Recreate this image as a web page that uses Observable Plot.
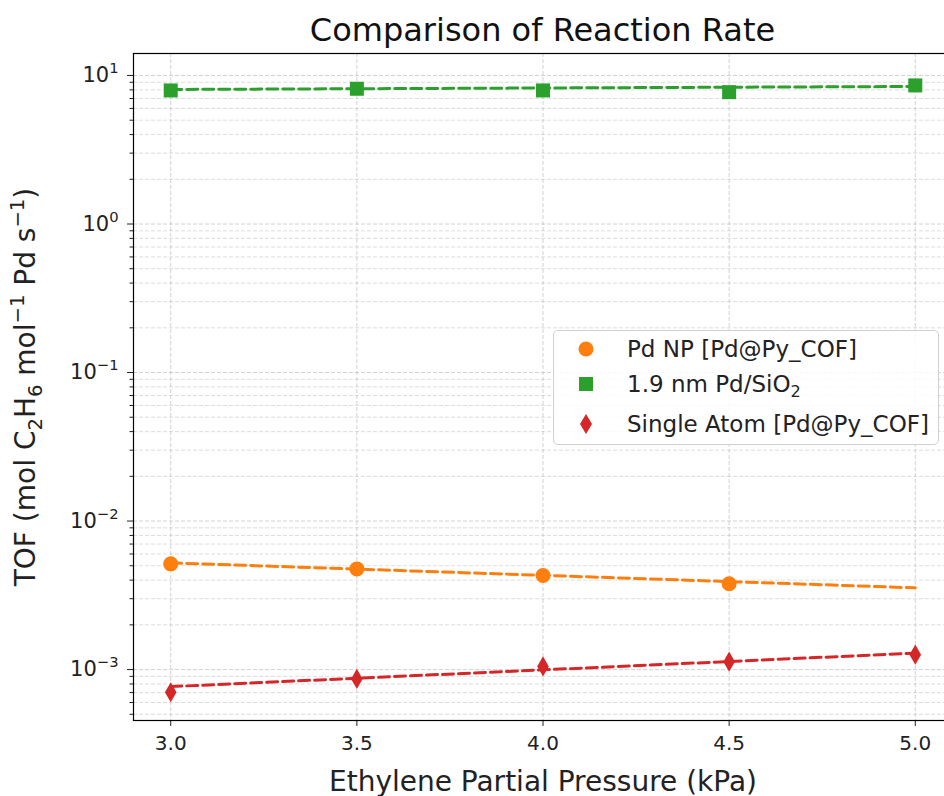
<!DOCTYPE html>
<html><head><meta charset="utf-8">
<script src="https://cdn.jsdelivr.net/npm/d3@7"></script>
<script src="https://cdn.jsdelivr.net/npm/@observablehq/plot@0.6"></script>
<style>
body{margin:0;background:#fff;font-family:"DejaVu Sans",sans-serif;}
#wrap{position:relative;width:944px;height:796px;overflow:hidden;background:#fff;}
#title{position:absolute;left:133px;width:819px;top:10px;text-align:center;font-size:32px;color:#111;line-height:40px;}
#chart{position:absolute;left:0;top:0;}
#chart svg{overflow:visible;font-family:"DejaVu Sans",sans-serif;}
#chart [aria-label="y-axis label"] text,#chart [aria-label="x-axis label"] text{font-size:28px;}
#legend{position:absolute;left:553px;top:330px;width:386px;height:115px;border:1px solid #d0d0d0;border-radius:5px;background:rgba(255,255,255,0.85);box-sizing:border-box;}
.row{position:absolute;left:0;height:30px;display:flex;align-items:center;font-size:23px;color:#222;}
.row svg{position:absolute;left:16px;}
.row span{position:absolute;left:73px;white-space:nowrap;}
.row sub{font-size:70%;vertical-align:-0.3em;line-height:0;}
</style></head>
<body>
<div id="wrap">
<div id="chart"></div>
<div id="title">Comparison of Reaction Rate</div>
<div id="legend"></div>
</div>
<script>
// Ethylene partial pressure (kPa)
const pressure = [3.0, 3.5, 4.0, 4.5, 5.0];
// TOF values (null = no marker)
const pdNP = [5.15e-3, 4.76e-3, 4.30e-3, 3.78e-3, null];
const pdSiO2 = [7.93, 8.14, 7.93, 7.72, 8.57];
const singleAtom = [7.03e-4, 8.65e-4, 1.05e-3, 1.13e-3, 1.26e-3];
// Dashed trend-line endpoints
const fitX = [3.0, 5.0];
const pdNPFit = [5.23e-3, 3.55e-3];
const pdSiO2Fit = [8.05, 8.43];
const singleAtomFit = [7.68e-4, 1.29e-3];
// Axis ticks
const xTicks = [3.0, 3.5, 4.0, 4.5, 5.0];
const yMajor = [1e-3, 1e-2, 1e-1, 1e0, 1e1];
const yExponents = ["\u22123", "\u22122", "\u22121", "0", "1"];
const seriesNames = ["Pd NP [Pd@Py_COF]", "1.9 nm Pd/SiO<sub>2</sub>", "Single Atom [Pd@Py_COF]"];
const colors = ["#ff7f0e", "#2ca02c", "#d62728"];
const yLabelParts = [["TOF (mol C"], ["2", "sub"], ["H"], ["6", "sub"], [" mol"], ["\u22121", "sup"], [" Pd s"], ["\u22121", "sup"], [")"]];

const yMinor = [];
for (let e = -4; e <= 0; e++) for (let m = 2; m <= 9; m++) {
  const v = m * Math.pow(10, e);
  if (v > 4.5e-4 && v < 14) yMinor.push(v);
}

const pts = (ys) => pressure.map((x, i) => ({x, y: ys[i]})).filter(d => d.y != null);
const fit = (ys) => fitX.map((x, i) => ({x, y: ys[i]}));
const yFmt = (d) => "10^" + (yExponents[Math.round(Math.log10(d)) + 3] ?? "");

const grid = {stroke: "#b8b8b8", strokeWidth: 0.8, strokeDasharray: "4,2", strokeOpacity: 0.8};
const dash = {strokeWidth: 3, strokeDasharray: "11,5"};

const plot = Plot.plot({
  width: 944,
  height: 796,
  marginLeft: 133,
  marginRight: -8,
  marginTop: 53,
  marginBottom: 76,
  style: {fontFamily: "DejaVu Sans, sans-serif", fontSize: "20px", color: "#222", background: "transparent"},
  x: {domain: [2.9, 5.1]},
  y: {type: "log", domain: [4.54e-4, 14.06]},
  marks: [
    Plot.ruleY(yMinor, {...grid, strokeOpacity: 0.6}),
    Plot.ruleY(yMajor, grid),
    Plot.ruleX(xTicks, grid),
    Plot.axisX({ticks: xTicks, tickFormat: d => d.toFixed(1), tickSize: 6, tickPadding: 9,
      label: "Ethylene Partial Pressure (kPa)", labelAnchor: "center", labelOffset: 70, labelArrow: "none", fontSize: 20}),
    Plot.axisY({ticks: yMinor, tickFormat: () => "", tickSize: 3.5, label: null}),
    Plot.axisY({ticks: yMajor, tickFormat: yFmt, tickSize: 6, tickPadding: 9, fontSize: 21,
      label: "TOF (mol C2H6 mol-1 Pd s-1)", labelAnchor: "center", labelOffset: 118, labelArrow: "none"}),
    Plot.dot(pts(pdNP), {x: "x", y: "y", r: 7.5, fill: colors[0], symbol: "circle"}),
    Plot.dot(pts(pdSiO2), {x: "x", y: "y", r: 7.9, fill: colors[1], symbol: "square"}),
    Plot.dot(pts(singleAtom), {x: "x", y: "y", r: 6.1, fill: colors[2], symbol: "diamond"}),
    Plot.line(fit(pdNPFit), {x: "x", y: "y", stroke: colors[0], ...dash}),
    Plot.line(fit(pdSiO2Fit), {x: "x", y: "y", stroke: colors[1], ...dash}),
    Plot.line(fit(singleAtomFit), {x: "x", y: "y", stroke: colors[2], ...dash}),
    Plot.frame({stroke: "#000", strokeWidth: 1.2})
  ]
});
document.getElementById("chart").appendChild(plot);

// Rich text (sub/superscripts) for axis texts
const NS = "http://www.w3.org/2000/svg";
function rich(el, parts, base) {
  el.textContent = "";
  let shift = 0;
  for (const [s, kind] of parts) {
    const t = document.createElementNS(NS, "tspan");
    t.textContent = s;
    const target = kind === "sub" ? base * 0.22 : kind === "sup" ? -base * 0.42 : 0;
    if (target - shift !== 0) t.setAttribute("dy", (target - shift).toFixed(2));
    shift = target;
    if (kind) t.setAttribute("font-size", (base * 0.7).toFixed(1));
    el.appendChild(t);
  }
}
plot.querySelectorAll('[aria-label="y-axis tick label"] text').forEach(el => {
  const s = el.textContent;
  if (s.startsWith("10^")) rich(el, [["10"], [s.slice(3), "sup"]], 21);
});
plot.querySelectorAll('[aria-label="y-axis label"] text').forEach(el => rich(el, yLabelParts, 28));

// Legend
const symbols = [
  '<circle cx="16" cy="15" r="7.5"/>',
  '<rect x="9" y="8" width="14" height="14"/>',
  '<path d="M16,5 L22,15 L16,25 L10,15 Z"/>'
];
const leg = document.getElementById("legend");
const rowTops = [3, 38, 78];
seriesNames.forEach((name, i) => {
  const row = document.createElement("div");
  row.className = "row";
  row.style.top = rowTops[i] + "px";
  row.innerHTML = `<svg width="32" height="30" style="fill:${colors[i]}">${symbols[i]}</svg><span>${name}</span>`;
  leg.appendChild(row);
});
</script>
</body></html>
